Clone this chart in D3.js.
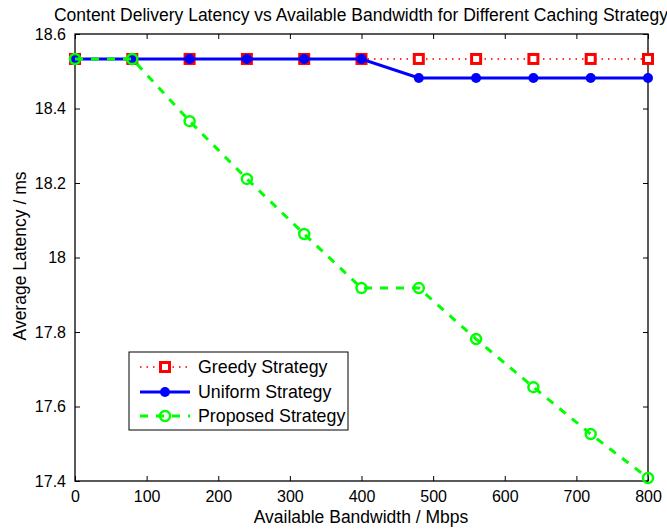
<!DOCTYPE html>
<html><head><meta charset="utf-8">
<script src="https://cdn.jsdelivr.net/npm/d3@7"></script>
<style>body{margin:0;background:#fff}svg{display:block}text{font-family:"Liberation Sans",Arial,sans-serif;fill:#000}</style>
</head><body>
<script>
const bandwidth = [0, 80, 160, 240, 320, 400, 480, 560, 640, 720, 800];
const greedy = [18.533, 18.533, 18.533, 18.533, 18.533, 18.533, 18.533, 18.533, 18.533, 18.533, 18.533];
const uniform = [18.533, 18.533, 18.533, 18.533, 18.533, 18.533, 18.482, 18.482, 18.482, 18.482, 18.482];
const proposed = [18.533, 18.533, 18.366, 18.211, 18.063, 17.918, 17.918, 17.781, 17.652, 17.526, 17.408];
const xTicks = [0, 100, 200, 300, 400, 500, 600, 700, 800];
const yTicks = [17.4, 17.6, 17.8, 18, 18.2, 18.4, 18.6];
const seriesNames = ["Greedy Strategy", "Uniform Strategy", "Proposed Strategy"];

const W = 667, H = 529;
const L = 75, R = 648, T = 34, B = 481;
const svg = d3.select("body").append("svg").attr("width", W).attr("height", H);
const x = d3.scaleLinear().domain([0, 800]).range([L, R]);
const y = d3.scaleLinear().domain([17.4, 18.6]).range([B, T]);

// frame
svg.append("rect").attr("x", L).attr("y", T).attr("width", R - L).attr("height", B - T)
  .attr("fill", "none").attr("stroke", "#000").attr("stroke-width", 1.3);

const fs = 16;
const gx = svg.append("g").attr("transform", `translate(0,${B})`)
  .call(d3.axisBottom(x).tickValues(xTicks).tickSize(-5).tickPadding(10).tickFormat(d3.format("d")));
const gxt = svg.append("g").attr("transform", `translate(0,${T})`)
  .call(d3.axisTop(x).tickValues(xTicks).tickSize(-5).tickFormat(""));
const gy = svg.append("g").attr("transform", `translate(${L},0)`)
  .call(d3.axisLeft(y).tickValues(yTicks).tickSize(-5).tickPadding(9).tickFormat(d => d3.format("")(+d.toFixed(1))));
const gyr = svg.append("g").attr("transform", `translate(${R},0)`)
  .call(d3.axisRight(y).tickValues(yTicks).tickSize(-5).tickFormat(""));
[gx, gxt, gy, gyr].forEach(g => {
  g.select(".domain").remove();
  g.selectAll("line").attr("stroke", "#000").attr("stroke-width", 1);
  g.selectAll("text").attr("font-size", fs).attr("font-family", '"Liberation Sans",Arial,sans-serif').attr("fill", "#000");
});

const line = d3.line().x((d, i) => x(bandwidth[i])).y(d => y(d));

// Greedy
svg.append("path").datum(greedy).attr("d", line).attr("fill", "none")
  .attr("stroke", "#ff3333").attr("stroke-width", 2).attr("stroke-dasharray", "1.5,5");
svg.append("g").selectAll("rect").data(greedy).join("rect")
  .attr("x", (d, i) => x(bandwidth[i]) - 4.5).attr("y", d => y(d) - 4.5).attr("width", 9).attr("height", 9)
  .attr("fill", "#fff").attr("stroke", "#ff0000").attr("stroke-width", 3);

// Uniform
svg.append("path").datum(uniform).attr("d", line).attr("fill", "none")
  .attr("stroke", "#0000ff").attr("stroke-width", 3);
svg.append("g").selectAll("circle").data(uniform).join("circle")
  .attr("cx", (d, i) => x(bandwidth[i])).attr("cy", d => y(d)).attr("r", 5).attr("fill", "#0000ff");

// Proposed
svg.append("path").datum(proposed).attr("d", line).attr("fill", "none")
  .attr("stroke", "#00ff00").attr("stroke-width", 3).attr("stroke-dasharray", "8,8");
svg.append("g").selectAll("circle").data(proposed).join("circle")
  .attr("cx", (d, i) => x(bandwidth[i])).attr("cy", d => y(d)).attr("r", 5)
  .attr("fill", "none").attr("stroke", "#00ff00").attr("stroke-width", 2.5);

// Titles
svg.append("text").attr("x", 361).attr("y", 21).attr("text-anchor", "middle").attr("font-size", 17.5)
  .text("Content Delivery Latency vs Available Bandwidth for Different Caching Strategy");
svg.append("text").attr("x", 361).attr("y", 523).attr("text-anchor", "middle").attr("font-size", 17.5)
  .text("Available Bandwidth / Mbps");
svg.append("text").attr("transform", `translate(26,256) rotate(-90)`).attr("text-anchor", "middle").attr("font-size", 17.5)
  .text("Average Latency / ms");

// Legend
const lg = svg.append("g");
lg.append("rect").attr("x", 129).attr("y", 352).attr("width", 219).attr("height", 78)
  .attr("fill", "#fff").attr("stroke", "#000").attr("stroke-width", 1);
const rows = [367, 392, 416];
const sx0 = 140, sx1 = 190, sm = 165;
lg.append("line").attr("x1", sx0).attr("x2", sx1).attr("y1", rows[0]).attr("y2", rows[0])
  .attr("stroke", "#ff3333").attr("stroke-width", 2).attr("stroke-dasharray", "1.5,5");
lg.append("rect").attr("x", sm - 4.5).attr("y", rows[0] - 4.5).attr("width", 9).attr("height", 9)
  .attr("fill", "#fff").attr("stroke", "#ff0000").attr("stroke-width", 3);
lg.append("line").attr("x1", sx0).attr("x2", sx1).attr("y1", rows[1]).attr("y2", rows[1])
  .attr("stroke", "#0000ff").attr("stroke-width", 3);
lg.append("circle").attr("cx", sm).attr("cy", rows[1]).attr("r", 5).attr("fill", "#0000ff");
lg.append("line").attr("x1", sx0).attr("x2", sx1).attr("y1", rows[2]).attr("y2", rows[2])
  .attr("stroke", "#00ff00").attr("stroke-width", 3).attr("stroke-dasharray", "8,8");
lg.append("circle").attr("cx", sm).attr("cy", rows[2]).attr("r", 5).attr("fill", "none")
  .attr("stroke", "#00ff00").attr("stroke-width", 2.5);
seriesNames.forEach((n, i) => {
  lg.append("text").attr("x", 198).attr("y", rows[i] + 6).attr("font-size", 17.8).text(n);
});
</script>
</body></html>
